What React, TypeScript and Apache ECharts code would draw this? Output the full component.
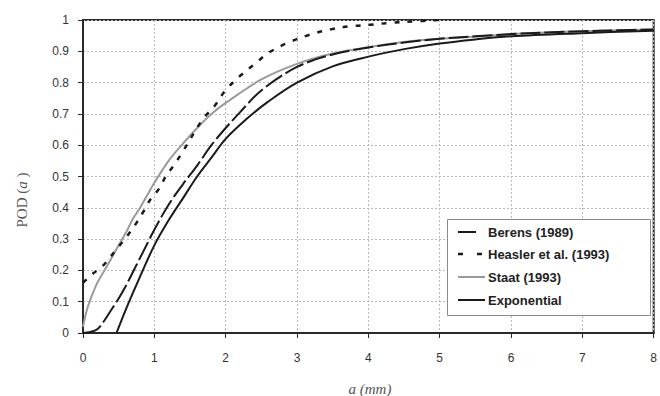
import React, { useEffect, useRef } from "react";
import * as echarts from "echarts";

const berensX = [0, 0.1, 0.2, 0.3, 0.4, 0.5, 0.6, 0.7, 0.8, 0.9, 1.0, 1.2, 1.4, 1.6, 1.8, 2.0, 2.2, 2.5, 3.0, 3.5, 4, 4.5, 5, 5.5, 6, 6.5, 7, 7.5, 8];
const berensY = [0, 0.003, 0.012, 0.04, 0.075, 0.11, 0.15, 0.195, 0.24, 0.285, 0.33, 0.41, 0.475, 0.535, 0.6, 0.655, 0.705, 0.775, 0.85, 0.89, 0.912, 0.928, 0.94, 0.948, 0.955, 0.96, 0.964, 0.967, 0.97];

const heaslerX = [0, 0.14, 0.26, 0.5, 0.63, 0.75, 0.86, 0.94, 1.07, 1.16, 1.28, 1.4, 1.67, 1.85, 2.0, 2.22, 2.41, 2.6, 2.88, 3.18, 3.47, 3.75, 4.03, 4.31, 4.6, 5.0];
const heaslerY = [0.16, 0.19, 0.21, 0.276, 0.313, 0.352, 0.393, 0.425, 0.462, 0.5, 0.538, 0.58, 0.68, 0.727, 0.776, 0.825, 0.86, 0.895, 0.928, 0.953, 0.97, 0.98, 0.985, 0.991, 0.995, 1.0];

const staatX = [0, 0.05, 0.1, 0.2, 0.3, 0.4, 0.5, 0.6, 0.7, 0.8, 0.9, 1.0, 1.2, 1.4, 1.6, 1.8, 2.0, 2.5, 3.0, 3.5, 4, 4.5, 5, 5.5, 6, 6.5, 7, 7.5, 8];
const staatY = [0.02, 0.07, 0.105, 0.16, 0.2, 0.24, 0.28, 0.32, 0.365, 0.4, 0.44, 0.48, 0.55, 0.605, 0.655, 0.7, 0.735, 0.81, 0.86, 0.893, 0.913, 0.93, 0.94, 0.947, 0.955, 0.96, 0.964, 0.967, 0.97];

const expoX = [0.47, 0.6, 0.8, 1.0, 1.2, 1.4, 1.6, 1.8, 2.0, 2.3, 2.6, 3.0, 3.5, 4, 4.5, 5, 5.5, 6, 7, 8];
const expoY = [0, 0.075, 0.18, 0.28, 0.36, 0.43, 0.5, 0.56, 0.62, 0.685, 0.74, 0.8, 0.852, 0.883, 0.907, 0.925, 0.938, 0.948, 0.958, 0.966];

const seriesNames = ["Berens (1989)", "Heasler et al. (1993)", "Staat (1993)", "Exponential"];

const pairs = (xs: number[], ys: number[]) => xs.map((x, i) => [x, ys[i]]);

export default function App() {
  const ref = useRef<HTMLDivElement>(null);
  useEffect(() => {
    if (!ref.current) return;
    const chart = echarts.init(ref.current, undefined, { renderer: "svg" });
    const labelFont = { fontFamily: "Liberation Sans, Arial", fontSize: 12, color: "#333" };
    const styles = [
      { color: "#1a1a1a", width: 2, dash: [20, 4] as number[] | null },
      { color: "#1a1a1a", width: 2.5, dash: [5, 8] as number[] | null },
      { color: "#9a9a9a", width: 2, dash: null },
      { color: "#1a1a1a", width: 2, dash: null },
    ];
    const legendY = [232, 254, 277, 300];
    const legendGraphics: any[] = [];
    seriesNames.forEach((name, i) => {
      const s = styles[i];
      if (i === 1) {
        [458, 477].forEach((x0) =>
          legendGraphics.push({
            type: "line",
            z: 16,
            shape: { x1: x0, y1: legendY[i], x2: x0 + 5, y2: legendY[i] },
            style: { stroke: s.color, lineWidth: 2.5 },
          })
        );
      } else {
        legendGraphics.push({
          type: "line",
          z: 16,
          shape: { x1: 458, y1: legendY[i], x2: i === 0 ? 476 : 485, y2: legendY[i] },
          style: { stroke: s.color, lineWidth: s.width },
        });
      }
      legendGraphics.push({
        type: "text",
        z: 16,
        x: 488,
        y: legendY[i],
        style: {
          text: name,
          align: "left",
          verticalAlign: "middle",
          font: "bold 13px Liberation Sans, Arial",
          fill: "#222",
        },
      });
    });
    chart.setOption({
      animation: false,
      backgroundColor: "#fff",
      grid: {
        left: 83,
        right: 2,
        top: 20,
        bottom: 63,
        show: true,
        borderColor: "#2a2a2a",
        borderWidth: 2,
        backgroundColor: "transparent",
      },
      xAxis: {
        type: "value",
        min: 0,
        max: 8,
        interval: 1,
        axisLine: { show: true, lineStyle: { color: "#2a2a2a", width: 2 } },
        axisTick: { show: true, length: 5, lineStyle: { color: "#2a2a2a" } },
        axisLabel: { ...labelFont, margin: 19 },
        splitLine: { show: true, lineStyle: { color: "#b8b8b8", type: [2, 2], width: 1 } },
      },
      yAxis: {
        type: "value",
        min: 0,
        max: 1,
        interval: 0.1,
        axisLine: { show: true, lineStyle: { color: "#2a2a2a", width: 2 } },
        axisTick: { show: true, length: 5, lineStyle: { color: "#2a2a2a" } },
        axisLabel: { ...labelFont, margin: 14 },
        splitLine: { show: true, lineStyle: { color: "#b8b8b8", type: [2, 2], width: 1 } },
      },
      graphic: [
        {
          type: "rect",
          z: 15,
          shape: { x: 447.5, y: 219.5, width: 203, height: 96 },
          style: { fill: "#fff", stroke: "#8a8a8a", lineWidth: 1 },
        },
        ...legendGraphics,
        {
          type: "text",
          x: 22,
          y: 200,
          rotation: Math.PI / 2,
          style: {
            text: "POD ({i|a} )",
            align: "center",
            verticalAlign: "middle",
            font: "15px Liberation Serif",
            fill: "#555",
            rich: { i: { fontStyle: "italic", fontFamily: "Liberation Serif", fontSize: 15, fill: "#555" } },
          },
        },
        {
          type: "text",
          x: 370,
          y: 389,
          style: {
            text: "a (mm)",
            align: "center",
            verticalAlign: "middle",
            font: "italic 15px Liberation Serif",
            fill: "#555",
          },
        },
      ],
      series: seriesNames.map((name, i) => ({
        name,
        type: "line",
        symbol: "none",
        smooth: 0.35,
        data: pairs(
          [berensX, heaslerX, staatX, expoX][i],
          [berensY, heaslerY, staatY, expoY][i]
        ),
        lineStyle: { color: styles[i].color, width: styles[i].width, type: styles[i].dash || "solid" },
        itemStyle: { color: styles[i].color },
        z: i === 2 ? 2 : 3,
      })),
    });
    return () => chart.dispose();
  }, []);
  return <div ref={ref} style={{ width: 660, height: 396, position: "absolute", left: 0, top: 0 }} />;
}
